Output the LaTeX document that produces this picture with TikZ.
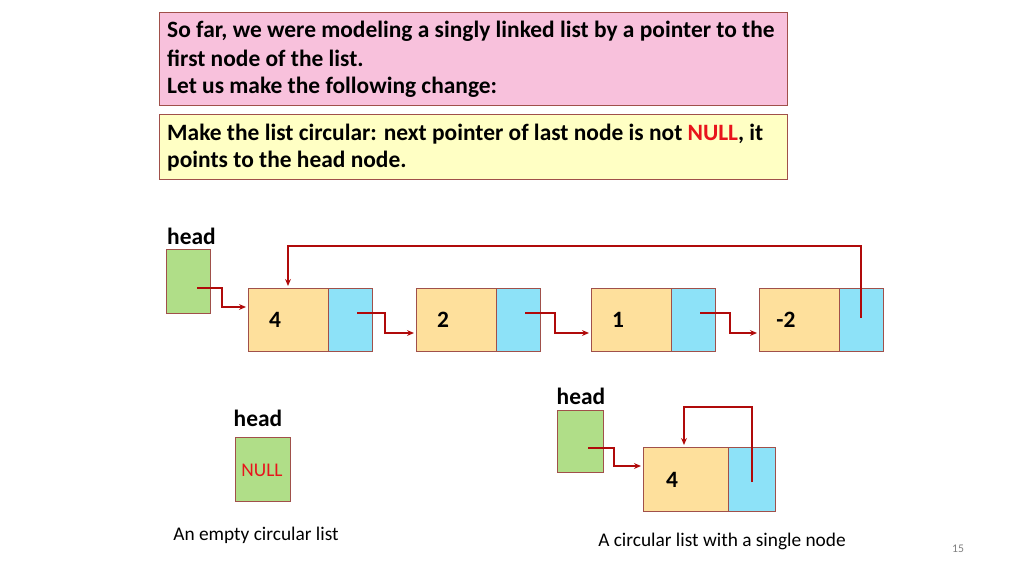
\documentclass[tikz,border=0pt]{standalone}
\usepackage{fontspec}
\setmainfont{Carlito}
\usetikzlibrary{arrows.meta}
\definecolor{pinkfill}{HTML}{F8C1DC}
\definecolor{yelfill}{HTML}{FFFFC4}
\definecolor{datafill}{HTML}{FEE09C}
\definecolor{ptrfill}{HTML}{8DE2F8}
\definecolor{headfill}{HTML}{B0DE88}
\definecolor{edgecol}{HTML}{A0504A}
\definecolor{linkcol}{HTML}{B00A0A}
\definecolor{nullred}{HTML}{E8141C}
\begin{document}
\begin{tikzpicture}[
        x = 0.03cm, y = -0.03cm, % pixel grid
        > = {Stealth[length=6pt,width=5pt]},
        cell/.style = {draw = edgecol, thin},
        link/.style = {->, draw = linkcol, line width = 1.3pt},
        txt/.style = {font = \bfseries\fontsize{20}{24}\selectfont, inner sep = 0pt},
        capt/.style = {font = \fontsize{16.5}{20}\selectfont, inner sep = 0pt}
    ]
    \useasboundingbox (0,0) rectangle (1024,576);

    % text boxes
    \draw[cell, fill = pinkfill] (159,12) rectangle (787,105);
    \node[txt, anchor = west] (l1) at (167,31) {So far, we were modeling a singly linked list by a pointer to the};
    \node[txt, anchor = west] (l2) at (167,58) {first node of the list.};
    \node[txt, anchor = west] (l3) at (167,87) {Let us make the following change:};
    \draw[cell, fill = yelfill] (159,114) rectangle (787,179);
    \node[txt, anchor = west] (l4) at (167,134) {Make the list circular: next pointer of last node is not \textcolor{nullred}{NULL}, it};
    \node[txt, anchor = west] (l5) at (167,161) {points to the head node.};

    % circular list
    \node[txt, anchor = west] (hlab) at (167,236) {head};
    \draw[cell, fill = headfill] (166,249) rectangle (210,313);
    \foreach \x/\v/\n in {248/4/a, 416/2/b, 591/1/c, 759/-2/d} {
        \draw[cell, fill = datafill] (\x,288) rectangle ++(80,63);
        \draw[cell, fill = ptrfill] (\x+80,288) rectangle ++(44,63);
        \node[txt] (\n) at (\x+27,320) {\v};
    }
    \draw[link] (197,288) -- (222,288) -- (222,307) -- (246,307);
    \draw[link] (357,313) -- (385,313) -- (385,333) -- (414,333);
    \draw[link] (525,313) -- (555,313) -- (555,333) -- (589,333);
    \draw[link] (700,313) -- (730,313) -- (730,333) -- (757,333);
    \draw[link] (861,318) -- (861,246) -- (288,246) -- (288,286);

    % empty list
    \node[txt] (hlab2) at (258,418) {head};
    \draw[cell, fill = headfill] (235,437) rectangle (290,501);
    \node[capt, text = nullred] (null) at (262,470) {NULL};
    \node[capt] (cap1) at (256,535) {An empty circular list};

    % single node
    \node[txt] (hlab3) at (581,396) {head};
    \draw[cell, fill = headfill] (557,410) rectangle (603,472);
    \draw[cell, fill = datafill] (643,447) rectangle (728,511);
    \draw[cell, fill = ptrfill] (728,447) rectangle (775,511);
    \node[txt] (e) at (672,480) {4};
    \draw[link] (588,448) -- (614,448) -- (614,466) -- (641,466);
    \draw[link] (752,482) -- (752,407) -- (684,407) -- (684,445);
    \node[capt] (cap2) at (722,541) {A circular list with a single node};

    \node[font = \fontsize{10}{12}\selectfont, text = gray] (pg) at (958,549) {15};
\end{tikzpicture}
\end{document}
